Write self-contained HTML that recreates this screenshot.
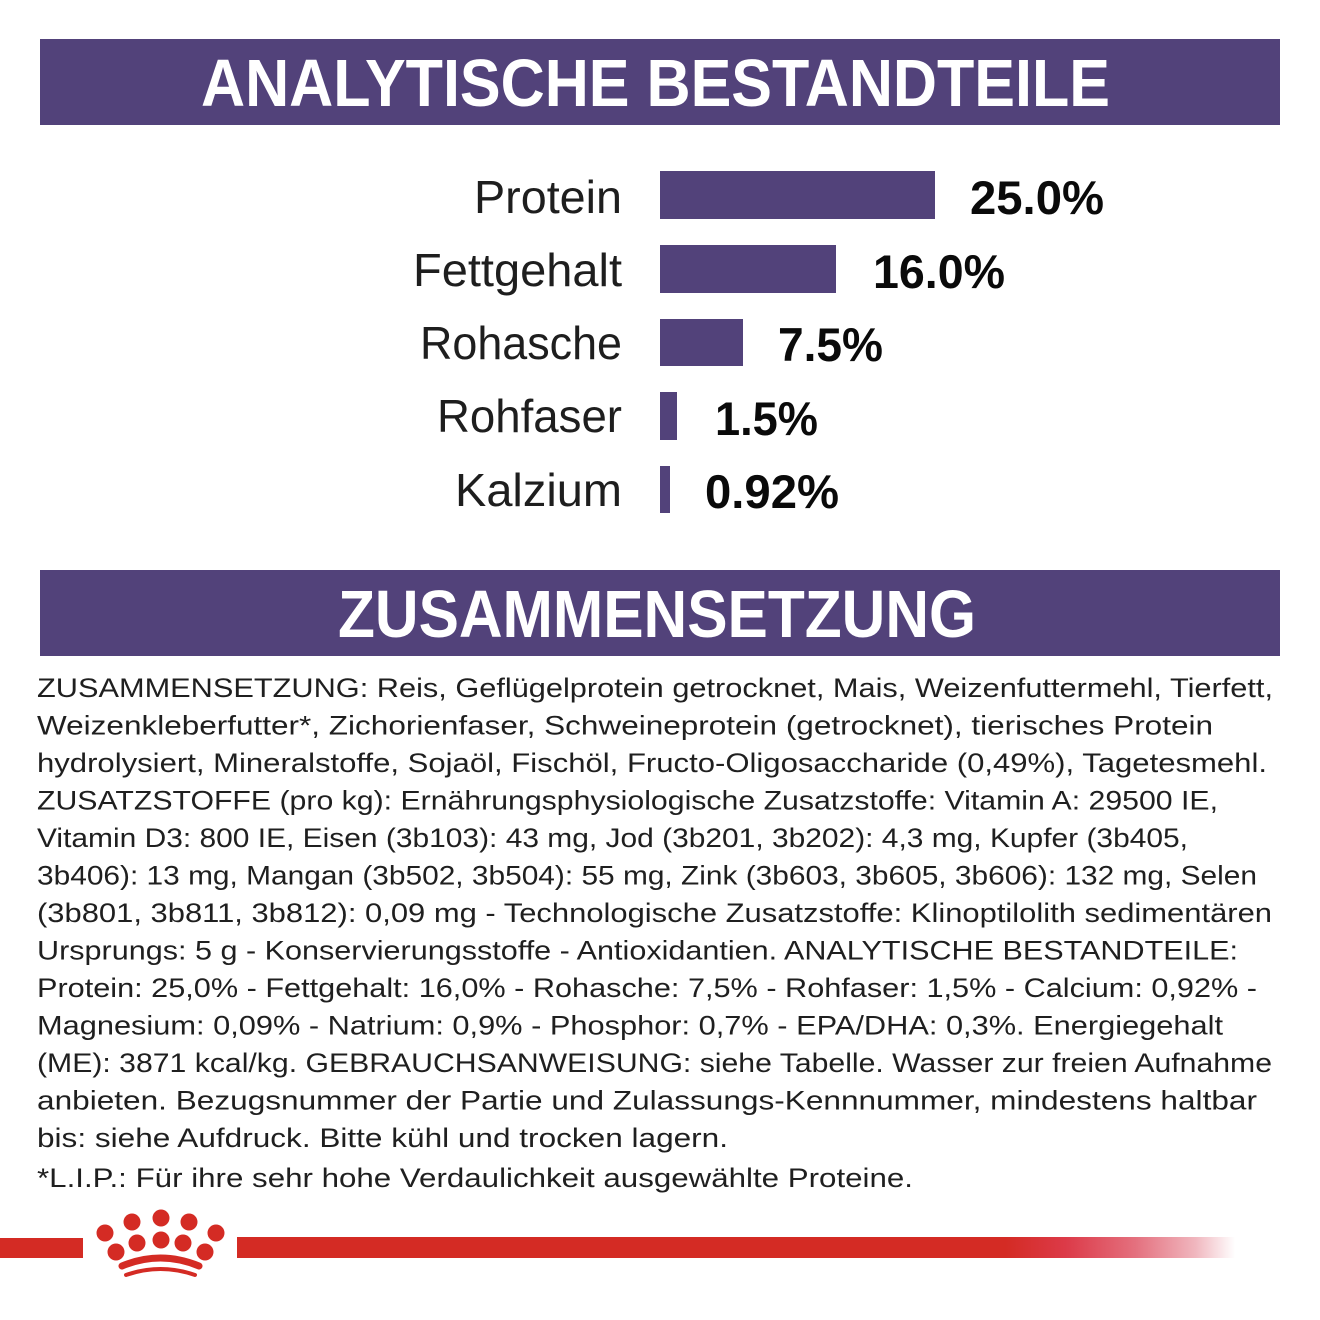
<!DOCTYPE html>
<html>
<head>
<meta charset="utf-8">
<style>
  html, body { margin: 0; padding: 0; background: #ffffff; }
  svg { display: block; }
  .lbl { font-family: "Liberation Sans", sans-serif; font-size: 46px; fill: #1e1e1e; }
  .val { font-family: "Liberation Sans", sans-serif; font-size: 47px; font-weight: bold; fill: #0a0a0a; }
  .hdr { font-family: "Liberation Sans", sans-serif; font-size: 67px; font-weight: bold; fill: #ffffff; }
  .p { font-family: "Liberation Sans", sans-serif; font-size: 27px; fill: #1f1f1f; }
</style>
</head>
<body>
<svg width="1320" height="1320" viewBox="0 0 1320 1320" xmlns="http://www.w3.org/2000/svg">
  <defs>
    <linearGradient id="redfade" x1="237" y1="0" x2="1235" y2="0" gradientUnits="userSpaceOnUse">
      <stop offset="0" stop-color="#d42b24"/>
      <stop offset="0.77" stop-color="#d42b24"/>
      <stop offset="0.83" stop-color="#dc3a48"/>
      <stop offset="0.9" stop-color="#e4707e"/>
      <stop offset="0.96" stop-color="#f0b6be"/>
      <stop offset="1" stop-color="#ffffff"/>
    </linearGradient>
  </defs>

  <rect x="0" y="0" width="1320" height="1320" fill="#ffffff"/>

  <!-- Header 1 -->
  <rect x="40" y="39" width="1240" height="86" fill="#52427a"/>
  <text class="hdr" x="201" y="106" textLength="909" lengthAdjust="spacingAndGlyphs">ANALYTISCHE BESTANDTEILE</text>

  <!-- Bars -->
  <rect x="660" y="171" width="275" height="48" fill="#52427a"/>
  <rect x="660" y="245" width="176" height="48" fill="#52427a"/>
  <rect x="660" y="319" width="83" height="47" fill="#52427a"/>
  <rect x="660" y="392" width="17" height="48" fill="#52427a"/>
  <rect x="660" y="466" width="10" height="47" fill="#52427a"/>

  <!-- Labels -->
  <text class="lbl" x="622" y="213" text-anchor="end" textLength="148" lengthAdjust="spacingAndGlyphs">Protein</text>
  <text class="lbl" x="622" y="286" text-anchor="end" textLength="209" lengthAdjust="spacingAndGlyphs">Fettgehalt</text>
  <text class="lbl" x="622" y="359" text-anchor="end" textLength="202" lengthAdjust="spacingAndGlyphs">Rohasche</text>
  <text class="lbl" x="622" y="432" text-anchor="end" textLength="185" lengthAdjust="spacingAndGlyphs">Rohfaser</text>
  <text class="lbl" x="622" y="506" text-anchor="end" textLength="167" lengthAdjust="spacingAndGlyphs">Kalzium</text>

  <!-- Values -->
  <text class="val" x="970" y="214" textLength="134" lengthAdjust="spacingAndGlyphs">25.0%</text>
  <text class="val" x="873" y="288" textLength="132" lengthAdjust="spacingAndGlyphs">16.0%</text>
  <text class="val" x="778" y="361" textLength="105" lengthAdjust="spacingAndGlyphs">7.5%</text>
  <text class="val" x="715" y="435" textLength="103" lengthAdjust="spacingAndGlyphs">1.5%</text>
  <text class="val" x="705" y="508" textLength="134" lengthAdjust="spacingAndGlyphs">0.92%</text>

  <!-- Header 2 -->
  <rect x="40" y="570" width="1240" height="86" fill="#52427a"/>
  <text class="hdr" x="338" y="637" textLength="638" lengthAdjust="spacingAndGlyphs">ZUSAMMENSETZUNG</text>

  <!-- Paragraph -->
  <text class="p" x="37" y="697" textLength="1236" lengthAdjust="spacingAndGlyphs">ZUSAMMENSETZUNG: Reis, Geflügelprotein getrocknet, Mais, Weizenfuttermehl, Tierfett,</text>
  <text class="p" x="37" y="734.5" textLength="1176" lengthAdjust="spacingAndGlyphs">Weizenkleberfutter*, Zichorienfaser, Schweineprotein (getrocknet), tierisches Protein</text>
  <text class="p" x="37" y="772" textLength="1230" lengthAdjust="spacingAndGlyphs">hydrolysiert, Mineralstoffe, Sojaöl, Fischöl, Fructo-Oligosaccharide (0,49%), Tagetesmehl.</text>
  <text class="p" x="37" y="809.5" textLength="1181" lengthAdjust="spacingAndGlyphs">ZUSATZSTOFFE (pro kg): Ernährungsphysiologische Zusatzstoffe: Vitamin A: 29500 IE,</text>
  <text class="p" x="37" y="847" textLength="1151" lengthAdjust="spacingAndGlyphs">Vitamin D3: 800 IE, Eisen (3b103): 43 mg, Jod (3b201, 3b202): 4,3 mg, Kupfer (3b405,</text>
  <text class="p" x="37" y="884.5" textLength="1220" lengthAdjust="spacingAndGlyphs">3b406): 13 mg, Mangan (3b502, 3b504): 55 mg, Zink (3b603, 3b605, 3b606): 132 mg, Selen</text>
  <text class="p" x="37" y="922" textLength="1235" lengthAdjust="spacingAndGlyphs">(3b801, 3b811, 3b812): 0,09 mg - Technologische Zusatzstoffe: Klinoptilolith sedimentären</text>
  <text class="p" x="37" y="959.5" textLength="1201" lengthAdjust="spacingAndGlyphs">Ursprungs: 5 g - Konservierungsstoffe - Antioxidantien. ANALYTISCHE BESTANDTEILE:</text>
  <text class="p" x="37" y="997" textLength="1220" lengthAdjust="spacingAndGlyphs">Protein: 25,0% - Fettgehalt: 16,0% - Rohasche: 7,5% - Rohfaser: 1,5% - Calcium: 0,92% -</text>
  <text class="p" x="37" y="1034.5" textLength="1186" lengthAdjust="spacingAndGlyphs">Magnesium: 0,09% - Natrium: 0,9% - Phosphor: 0,7% - EPA/DHA: 0,3%. Energiegehalt</text>
  <text class="p" x="37" y="1072" textLength="1235" lengthAdjust="spacingAndGlyphs">(ME): 3871 kcal/kg. GEBRAUCHSANWEISUNG: siehe Tabelle. Wasser zur freien Aufnahme</text>
  <text class="p" x="37" y="1109.5" textLength="1220" lengthAdjust="spacingAndGlyphs">anbieten. Bezugsnummer der Partie und Zulassungs-Kennnummer, mindestens haltbar</text>
  <text class="p" x="37" y="1147" textLength="691" lengthAdjust="spacingAndGlyphs">bis: siehe Aufdruck. Bitte kühl und trocken lagern.</text>
  <text class="p" x="37" y="1187" textLength="876" lengthAdjust="spacingAndGlyphs">*L.I.P.: Für ihre sehr hohe Verdaulichkeit ausgewählte Proteine.</text>

  <!-- Red band -->
  <rect x="0" y="1238" width="83" height="20" fill="#d42b24"/>
  <rect x="237" y="1237" width="998" height="21" fill="url(#redfade)"/>

  <!-- Crown -->
  <g fill="#d42b24">
    <circle cx="132" cy="1222" r="8.5"/>
    <circle cx="161" cy="1218" r="8.5"/>
    <circle cx="189" cy="1222" r="8.5"/>
    <circle cx="105" cy="1233" r="8.5"/>
    <circle cx="216" cy="1233" r="8.5"/>
    <circle cx="137" cy="1243" r="8.5"/>
    <circle cx="161" cy="1240" r="8.5"/>
    <circle cx="183" cy="1243" r="8.5"/>
    <circle cx="116" cy="1252" r="8.5"/>
    <circle cx="205" cy="1252" r="8.5"/>
  </g>
  <g fill="none" stroke="#d42b24" stroke-linecap="round">
    <path d="M 122 1266 Q 160.5 1250 199 1266" stroke-width="7"/>
    <path d="M 126 1275 Q 160.5 1263 195 1275" stroke-width="4"/>
  </g>
</svg>
</body>
</html>
